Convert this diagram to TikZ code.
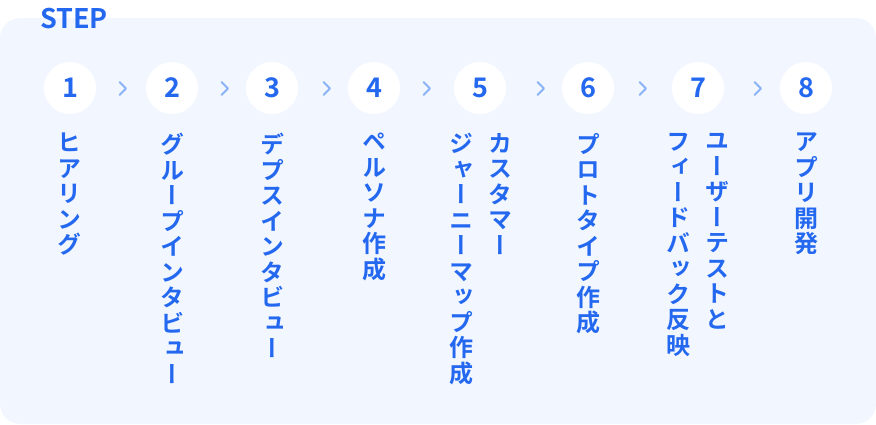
\documentclass[tikz,border=0pt]{standalone}
\usepackage{fontspec}
\setmainfont{Noto Sans}
\newfontfamily\jpv[RawFeature=+vert]{Noto Sans CJK JP Bold}
\newfontfamily\jpb{Noto Sans CJK JP Bold}
\usetikzlibrary{calc}
\definecolor{stepblue}{HTML}{2468F0}
\definecolor{bgblue}{HTML}{F2F7FF}
\definecolor{chev}{HTML}{8AB2F6}
\tikzset{
  num/.style={circle, fill=white, minimum size=52pt, inner sep=0pt, text=stepblue,
    font=\jpb\fontsize{27}{27}\selectfont},
  vcol/.style={anchor=north, align=center, inner sep=0pt, text=stepblue,
    font=\jpv\fontsize{24}{25.5}\selectfont},
  chevron/.style={draw=chev, line width=2pt, line cap=round, line join=round},
}
\begin{document}
\begin{tikzpicture}[x=1pt,y=-1pt]
\useasboundingbox (0,0) rectangle (876,424);
\fill[bgblue, rounded corners=20pt] (0,18) rectangle (876,424);
\node[anchor=base west, inner sep=0pt, text=stepblue,
  font=\jpb\fontsize{27}{27}\selectfont] (title) at (40,28) {STEP};
% step circles
\node[num] (c1) at (70,88) {1};
\node[num] (c2) at (172,88) {2};
\node[num] (c3) at (272,88) {3};
\node[num] (c4) at (374,88) {4};
\node[num] (c5) at (480,88) {5};
\node[num] (c6) at (588,88) {6};
\node[num] (c7) at (698,88) {7};
\node[num] (c8) at (806,88) {8};
% chevrons
\foreach \cx in {123,225,327,427,541,643,758}{
  \draw[chevron] (\cx-3.5,82) -- (\cx+3,88.5) -- (\cx-3.5,95);
}
% vertical labels
\node[vcol] (t1) at (69,133) {ヒ\\ア\\リ\\ン\\グ};
\node[vcol] (t2) at (172,133) {グ\\ル\\ー\\プ\\イ\\ン\\タ\\ビ\\ュ\\ー};
\node[vcol] (t3) at (272,133) {デ\\プ\\ス\\イ\\ン\\タ\\ビ\\ュ\\ー};
\node[vcol] (t4) at (374,133) {ペ\\ル\\ソ\\ナ\\作\\成};
\node[vcol] (t5a) at (500,133) {カ\\ス\\タ\\マ\\ー};
\node[vcol] (t5b) at (461,133) {ジ\\ャ\\ー\\ニ\\ー\\マ\\ッ\\プ\\作\\成};
\node[vcol] (t6) at (588,133) {プ\\ロ\\ト\\タ\\イ\\プ\\作\\成};
\node[vcol] (t7a) at (717,133) {ユ\\ー\\ザ\\ー\\テ\\ス\\ト\\と};
\node[vcol] (t7b) at (678,133) {フ\\ィ\\ー\\ド\\バ\\ッ\\ク\\反\\映};
\node[vcol] (t8) at (806,133) {ア\\プ\\リ\\開\\発};
\end{tikzpicture}
\end{document}
